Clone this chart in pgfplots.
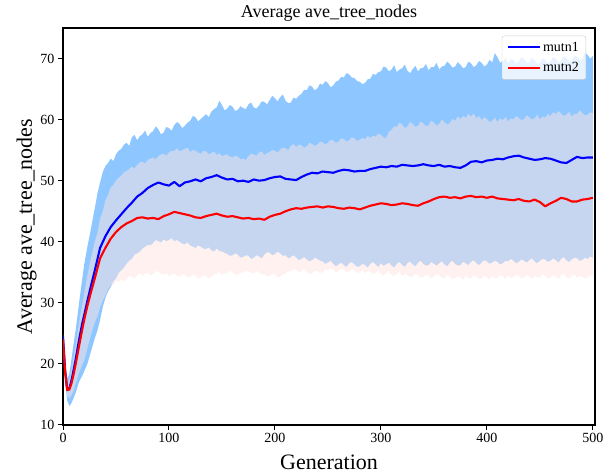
\documentclass[border=0pt]{standalone}
\usepackage{pgfplots}
\pgfplotsset{compat=1.18}
\usepackage{pgfplotstable}
\usepgfplotslibrary{fillbetween}
\usepackage{fontspec}
\setmainfont{Liberation Serif}
\definecolor{band1}{RGB}{30,144,255}
\definecolor{band2}{RGB}{255,228,225}
\definecolor{legedge}{RGB}{204,204,204}

% mean curves
\pgfplotstableread{
g m1 m2
0 24.5 24.0
2 19.0 18.6
4 15.8 15.7
6 16.0 15.8
8 17.3 16.8
10 19.0 18.3
12 20.8 20.0
15 23.8 22.8
18 26.5 25.5
20 28.0 27.2
23 30.3 29.5
26 32.5 31.5
30 35.3 34.0
35 39.0 37.3
40 40.9 39.0
45 42.4 40.5
50 43.5 41.6
55 44.5 42.4
60 45.5 43.0
65 46.4 43.4
70 47.4 43.9
75 48.0 44.0
80 48.8 43.8
85 49.3 43.9
90 49.7 43.7
95 49.4 44.2
100 49.2 44.5
105 49.8 44.9
110 49.1 44.7
115 49.7 44.5
120 49.9 44.3
125 50.2 44.0
130 49.9 43.9
135 50.4 44.2
140 50.6 44.4
145 50.9 44.6
150 50.5 44.3
155 50.2 44.1
160 50.3 44.2
165 49.9 44.0
170 50.0 43.8
175 49.8 43.9
180 50.2 43.7
185 50.0 43.8
190 50.1 43.6
195 50.4 44.1
200 50.6 44.4
205 50.7 44.6
210 50.3 45.0
215 50.2 45.3
220 50.1 45.5
225 50.6 45.4
230 51.0 45.6
235 51.3 45.7
240 51.2 45.8
245 51.5 45.6
250 51.4 45.8
255 51.3 45.7
260 51.6 45.5
265 51.8 45.4
270 51.7 45.6
275 51.5 45.5
280 51.6 45.3
285 51.6 45.6
290 51.9 45.9
295 52.1 46.1
300 52.3 46.3
305 52.2 46.2
310 52.4 46.0
315 52.3 46.1
320 52.6 46.3
325 52.5 46.2
330 52.4 46.0
335 52.5 45.9
340 52.7 46.3
345 52.5 46.6
350 52.4 47.0
355 52.6 47.3
360 52.3 47.4
365 52.4 47.2
370 52.2 47.3
375 52.1 47.1
380 52.5 47.4
385 53.1 47.5
390 53.2 47.3
395 53.0 47.4
400 53.3 47.2
405 53.4 47.4
410 53.6 47.1
415 53.5 47.0
420 53.8 46.9
425 54.0 46.8
430 54.1 47.0
435 53.8 46.7
440 53.6 46.6
445 53.4 46.9
450 53.5 46.5
455 53.7 45.8
460 53.6 46.3
465 53.3 46.7
470 53.0 47.2
475 52.9 47.0
480 53.4 46.6
485 53.9 46.6
490 53.7 46.9
495 53.8 47.0
500 53.8 47.2
}\means

% band edges (upper/lower of mutn1 and mutn2)
\pgfplotstableread{
g u1 l1 u2 l2
0 25.3 23.6 24.8 23.3
2 20.3 17.0 19.6 17.6
4 17.6 14.0 16.8 14.8
6 18.4 13.1 17.4 14.4
8 20.8 13.6 19.0 14.9
10 23.3 14.4 21.0 15.6
12 25.6 15.3 23.0 16.8
15 29.8 17.0 26.5 18.5
18 33.7 18.0 29.5 19.8
20 36.3 18.8 31.5 20.6
23 39.2 20.0 34.5 22.5
26 41.8 21.8 37.0 24.5
30 45.5 24.2 40.0 26.8
32.5 47.9 25.5 41.4 27.8
35 49.7 27.2 43.8 29.3
37.5 51.4 29.3 45.0 30.4
40 52.4 30.8 46.8 31.2
42.5 52.9 31.9 47.6 32.3
45 53.6 32.6 48.9 32.8
47.5 53.2 33.5 49.3 33.0
50 54.3 34.0 50.0 33.6
52.5 54.9 34.9 50.5 33.4
55 55.2 35.3 50.8 33.9
57.5 55.9 35.8 51.4 33.5
60 56.2 36.4 51.6 33.8
62.5 55.7 36.9 51.9 34.5
65 57.1 37.2 52.3 34.3
67.5 57.5 37.9 52.0 34.0
70 56.6 38.1 52.6 34.6
72.5 57.3 38.4 53.0 34.9
75 57.6 38.9 53.1 34.4
77.5 58.2 39.2 52.8 34.8
80 57.2 39.5 53.4 34.9
82.5 57.8 39.4 53.6 34.5
85 58.1 39.8 53.8 34.7
87.5 58.9 40.3 53.5 35.2
90 58.4 40.1 54.0 35.1
92.5 57.6 39.9 54.3 34.8
95 57.9 40.4 54.4 34.6
97.5 58.8 40.1 54.1 34.9
100 58.6 40.3 54.6 34.4
102.5 58.2 40.6 54.9 34.7
105 59.1 40.1 54.9 34.8
107.5 59.6 40.3 55.3 34.5
110 59.3 40.0 54.8 34.3
112.5 58.6 39.7 55.0 34.7
115 59.0 39.6 55.2 34.6
117.5 59.5 39.9 55.4 34.2
120 59.8 39.4 54.7 34.2
122.5 60.6 39.2 55.0 34.6
125 60.4 39.0 54.9 34.5
127.5 59.7 39.4 54.6 34.0
130 60.1 39.2 54.4 34.1
132.5 60.5 38.9 54.9 34.5
135 60.9 38.8 54.8 34.4
137.5 60.4 39.1 54.3 34.0
140 61.3 38.6 54.5 34.3
142.5 61.7 38.4 54.8 34.6
145 62.0 38.9 54.2 34.7
147.5 63.1 38.5 54.5 35.1
150 62.4 38.4 54.0 34.5
152.5 61.5 38.2 54.2 34.8
155 61.8 38.0 54.3 34.9
157.5 62.4 37.7 53.9 35.3
160 62.1 37.8 53.8 35.0
162.5 61.4 38.1 54.1 34.6
165 61.6 37.9 53.9 34.6
167.5 62.2 37.4 53.5 35.0
170 61.9 37.5 53.6 34.9
172.5 61.7 37.8 53.4 35.3
175 62.5 37.7 54.0 35.2
177.5 62.8 37.2 54.4 34.9
180 62.0 37.4 54.3 34.8
182.5 61.8 37.8 54.1 35.2
185 62.3 37.6 54.6 35.0
187.5 63.0 37.3 54.8 34.6
190 62.9 37.9 54.2 34.7
192.5 62.5 38.3 54.5 34.3
195 63.2 38.2 54.7 34.4
197.5 63.9 37.8 55.0 34.8
200 63.5 38.0 54.9 34.6
202.5 63.0 38.4 54.6 34.2
205 63.7 38.1 55.1 34.3
207.5 64.1 37.7 55.4 34.7
210 63.1 37.8 55.3 34.8
212.5 62.7 37.3 55.0 35.2
215 62.8 37.5 55.7 35.1
217.5 63.6 37.8 56.0 35.5
220 63.4 37.4 55.5 35.4
222.5 63.9 37.0 55.9 35.0
225 64.2 37.2 55.8 35.2
227.5 64.9 37.5 55.4 35.6
230 64.8 37.1 55.6 35.0
232.5 65.6 36.8 56.2 34.7
235 65.4 37.0 56.0 34.8
237.5 64.8 37.4 55.7 35.3
240 65.1 37.2 55.9 35.2
242.5 65.9 36.9 56.4 34.9
245 65.7 36.8 56.3 35.0
247.5 66.3 36.4 55.9 35.5
250 66.0 36.6 56.2 35.3
252.5 65.3 36.9 56.7 35.7
255 65.6 36.4 56.6 35.5
257.5 66.2 36.0 56.2 35.0
260 66.4 36.3 56.4 35.2
262.5 67.0 36.6 56.9 35.6
265 66.9 36.2 56.8 35.4
267.5 67.6 35.9 56.4 35.0
270 67.4 36.5 56.6 35.1
272.5 66.9 36.7 57.1 35.5
275 66.8 36.3 56.9 35.3
277.5 66.3 35.9 56.5 34.9
280 66.2 36.0 56.7 35.0
282.5 65.8 36.4 57.0 35.4
285 66.0 36.2 56.8 34.8
287.5 66.6 35.8 57.3 35.2
290 66.7 36.4 57.0 35.1
292.5 67.5 36.7 57.4 34.7
295 67.3 36.3 57.2 34.9
297.5 67.8 35.9 57.7 35.3
300 67.9 36.5 57.5 34.7
302.5 68.7 36.1 57.1 34.4
305 68.5 36.3 57.0 34.9
307.5 67.9 36.6 58.0 35.2
310 68.2 36.1 58.3 34.6
312.5 68.9 35.8 58.9 34.3
315 67.8 36.4 58.8 34.8
317.5 68.2 36.7 59.5 35.1
320 68.4 36.2 59.2 34.4
322.5 69.0 35.9 58.6 34.7
325 68.0 36.5 58.9 34.6
327.5 67.6 36.8 59.6 34.2
330 68.3 36.3 59.3 34.3
332.5 68.8 36.0 58.8 34.8
335 67.9 36.6 59.0 34.5
337.5 68.4 36.9 59.7 34.1
340 68.5 36.4 59.4 34.2
342.5 69.1 36.1 58.9 34.6
345 68.1 36.2 59.1 34.4
347.5 68.6 36.7 59.8 34.0
350 68.6 36.4 59.5 34.3
352.5 69.3 36.1 59.0 34.7
355 68.2 36.5 59.3 34.5
357.5 68.7 36.8 60.0 34.1
360 68.8 36.3 59.6 34.1
362.5 69.5 36.0 59.2 34.6
365 69.1 36.6 59.4 34.3
367.5 68.5 36.9 60.1 33.9
370 68.7 36.4 59.8 34.0
372.5 69.4 36.1 60.5 34.4
375 69.0 36.2 60.1 34.2
377.5 68.4 36.7 60.6 33.8
380 68.6 36.5 60.3 34.4
382.5 69.5 36.2 60.9 34.0
385 69.2 36.7 60.5 34.1
387.5 68.6 37.0 61.0 34.5
390 68.9 36.5 60.2 34.3
392.5 69.6 36.2 60.6 33.9
395 69.3 36.6 59.9 34.0
397.5 68.7 37.0 60.4 34.4
400 69.0 36.8 60.1 34.2
402.5 69.8 36.4 59.6 33.8
405 69.4 36.6 59.8 34.4
407.5 70.9 36.9 60.3 34.0
410 70.2 36.7 59.6 34.1
412.5 69.3 36.3 60.2 34.6
415 69.6 36.5 59.9 34.3
417.5 70.1 36.9 60.4 33.9
420 69.2 36.8 59.7 34.5
422.5 69.9 37.2 60.2 34.1
425 69.8 36.9 60.0 34.2
427.5 69.2 36.5 60.6 34.7
430 69.5 36.7 60.3 34.4
432.5 70.2 37.1 59.9 34.0
435 69.9 36.9 60.1 34.1
437.5 69.3 36.6 60.7 34.6
440 69.4 37.0 60.4 34.3
442.5 70.1 37.3 60.0 33.9
445 69.7 36.8 60.2 34.5
447.5 69.1 36.5 60.8 34.1
450 69.3 36.9 60.0 34.2
452.5 70.0 37.2 60.5 34.7
455 69.8 37.1 60.3 34.4
457.5 69.2 36.7 60.9 34.0
460 69.5 36.9 60.6 34.1
462.5 70.3 37.3 61.2 34.6
465 70.0 37.0 60.9 34.3
467.5 69.4 36.6 61.4 33.9
470 69.6 37.2 61.0 34.5
472.5 70.4 37.5 60.6 34.8
475 70.1 37.0 60.8 34.2
477.5 69.5 36.7 61.3 34.0
480 69.7 37.1 60.5 34.4
482.5 70.5 37.4 60.9 34.7
485 70.3 37.3 60.9 34.1
487.5 69.8 36.9 61.5 34.4
490 69.9 37.0 61.1 34.3
492.5 71.0 37.4 60.7 34.0
495 70.6 37.2 60.8 34.2
497.5 70.0 37.6 61.2 34.6
500 70.4 37.4 61.0 34.3
}\bands

\begin{document}
\begin{tikzpicture}
\path (0,0) rectangle (614bp,476bp);
\begin{axis}[
  at={(63bp,51bp)}, anchor=south west,
  scale only axis, width=532bp, height=397bp,
  xmin=0, xmax=502, ymin=10, ymax=75,
  xtick={0,100,...,500}, ytick={10,20,...,70},
  xtick pos=bottom, ytick pos=left,
  tick align=outside, major tick length=5bp,
  axis line style={line width=1.1bp},
  every tick/.style={black, line width=1bp},
  /pgf/number format/assume math mode=true,
  tick label style={font=\fontsize{14bp}{16bp}\selectfont},
  title={Average ave\_tree\_nodes},
  title style={font=\fontsize{18bp}{20bp}\selectfont, yshift=-3bp},
  xlabel={Generation},
  ylabel={Average ave\_tree\_nodes},
  label style={font=\fontsize{22bp}{24bp}\selectfont},
  xlabel style={yshift=-5bp},
  ylabel style={yshift=-3bp},
  legend style={at={(0.9831,0.9806)}, anchor=north east,
    draw=legedge, rounded corners=2bp, fill=white, fill opacity=0.8, text opacity=1,
    font=\fontsize{14bp}{16bp}\selectfont, inner xsep=5bp, inner ysep=4bp,
    row sep=6bp},
  legend cell align=left,
  legend image code/.code={\draw[line width=2bp] (0bp,0bp) -- (32bp,0bp);},
]
\addplot[name path=u1, draw=none, forget plot] table[x=g, y=u1] {\bands};
\addplot[name path=l1, draw=none, forget plot] table[x=g, y=l1] {\bands};
\addplot[band1, fill opacity=0.5, forget plot] fill between[of=u1 and l1];
\addplot[name path=u2, draw=none, forget plot] table[x=g, y=u2] {\bands};
\addplot[name path=l2, draw=none, forget plot] table[x=g, y=l2] {\bands};
\addplot[band2, fill opacity=0.5, forget plot] fill between[of=u2 and l2];
\addplot[blue, line width=2.1bp, line join=round] table[x=g, y=m1] {\means};
\addlegendentry{mutn1}
\addplot[red, line width=2.1bp, line join=round] table[x=g, y=m2] {\means};
\addlegendentry{mutn2}
\end{axis}
\end{tikzpicture}
\end{document}
